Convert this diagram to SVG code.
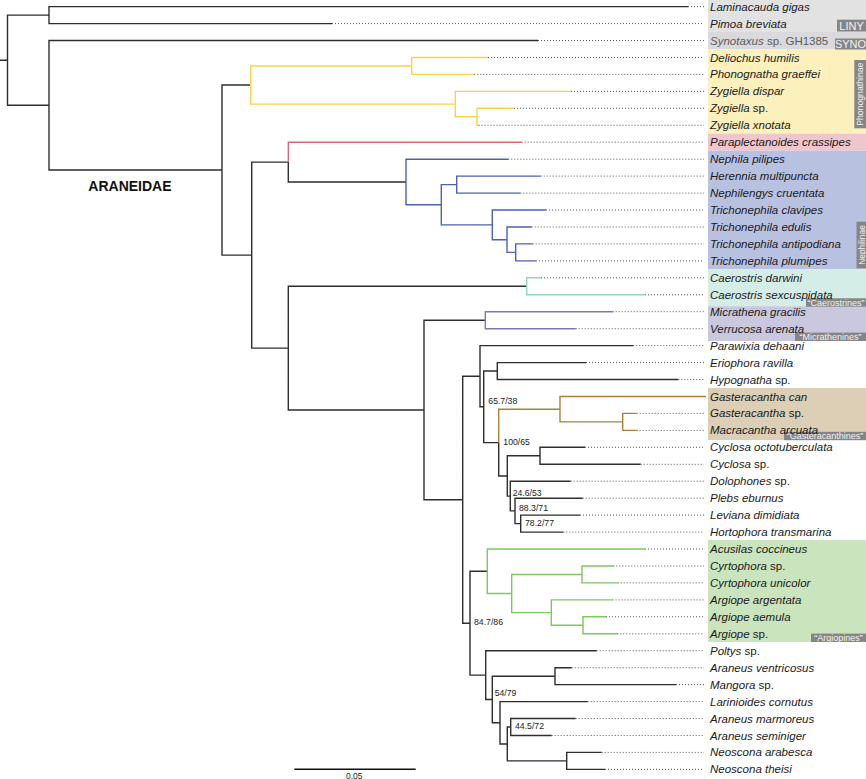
<svg xmlns="http://www.w3.org/2000/svg" width="866" height="779" viewBox="0 0 866 779">
<style>
.br{fill:none;stroke:#2e2e2e;stroke-width:1.4;stroke-linejoin:miter}
.ye{stroke:#f7d448}.rd{stroke:#d66a7a}.bl{stroke:#4c62b0}.tl{stroke:#8fd6c3}.pu{stroke:#7c7aab}.bn{stroke:#a9803a}.gn{stroke:#7dc95a}
.dot{fill:none;stroke:#555;stroke-width:1;stroke-dasharray:1 2}
.tip{font-family:"Liberation Sans",Arial,sans-serif;font-size:11.5px;fill:#1a1a1a}
.i{font-style:italic}
.sup{font-family:"Liberation Sans",Arial,sans-serif;font-size:8.7px;fill:#222}
.lbox{fill:#858585}
.ltx{font-family:"Liberation Sans",Arial,sans-serif;font-size:9px;fill:#f4f4f4}
</style>
<rect width="866" height="779" fill="#fff"/>
<g id="bands">
<rect x="708" y="0" width="158" height="32" fill="#e2e2e3"/>
<rect x="708" y="32" width="158" height="17" fill="#dadadc"/>
<rect x="708" y="49" width="158" height="84.7" fill="#fcf0bd"/>
<rect x="708" y="133.7" width="158" height="17" fill="#efc6cb"/>
<rect x="708" y="150.7" width="158" height="118.6" fill="#b9c1e1"/>
<rect x="708" y="269.3" width="158" height="36.9" fill="#d4ede6"/>
<rect x="708" y="306.2" width="158" height="34.8" fill="#cac8de"/>
<rect x="708" y="388" width="158" height="52" fill="#dccfb5"/>
<rect x="708" y="540" width="158" height="102" fill="#cae4bd"/>
</g>
<g id="clade-labels">
<g id="label-liny"><rect class="lbox" x="837" y="19.7" width="29" height="11.8"/><text class="ltx" x="851.5" y="29.6" text-anchor="middle" style="font-size:11px">LINY</text></g>
<g id="label-syno"><rect class="lbox" x="835" y="38.5" width="31" height="11"/><text class="ltx" x="850.5" y="48" text-anchor="middle" style="font-size:11px">SYNO</text></g>
<g id="label-phonognathinae"><rect class="lbox" x="854.3" y="60" width="11.7" height="68.3"/><text class="ltx" transform="translate(863.3,94.2) rotate(-90)" text-anchor="middle" style="font-size:8.7px">Phonognathinae</text></g>
<g id="label-nephilinae"><rect class="lbox" x="856.5" y="221.7" width="9.5" height="46.6"/><text class="ltx" transform="translate(864.5,245) rotate(-90)" text-anchor="middle" style="font-size:8.4px">Nephilinae</text></g>
<g id="label-caerostrines"><rect class="lbox" x="806" y="298.3" width="60" height="8.4"/><text class="ltx" x="836" y="305.6" text-anchor="middle">“Caerostrines”</text></g>
<g id="label-micrathenines"><rect class="lbox" x="795" y="332.6" width="71" height="8.4"/><text class="ltx" x="830.5" y="339.9" text-anchor="middle">“Micrathenines”</text></g>
<g id="label-gasteracanthines"><rect class="lbox" x="784" y="431.8" width="82" height="8.4"/><text class="ltx" x="825" y="439.1" text-anchor="middle">“Gasteracanthines”</text></g>
<g id="label-argiopines"><rect class="lbox" x="811" y="633.6" width="55" height="8.4"/><text class="ltx" x="838.5" y="640.9" text-anchor="middle">“Argiopines”</text></g>
</g>
<g id="connectors">
<path class="br" d="M0,60.2H7.5 M7.5,60.2V15.1H49 M7.5,60.2V105.3H49
M49,15.1V6.6H688 M49,15.1V23.6H332
M49,105.3V40.5H538 M49,105.3V170H222
M222,170V85H250.7 M222,170V255.1H251.7
M251.7,255.1V162.1H288.3 M251.7,255.1V348.1H288.3
M288.3,162.1V182H406
M288.3,348.1V286.3H526.7 M288.3,348.1V410H424
M424,410V320.2H485.3 M424,410V499.7H462.7
M462.7,499.7V376.2H480 M462.7,499.7V623.2H470
M480,376.2V345.6H633.3 M480,376.2V406.8H483.7
M483.7,406.8V371H497.3 M483.7,406.8V442.6H498.7
M497.3,371V362.6H586 M497.3,371V379.5H678.3
M498.7,442.6V476H507.3
M507.3,476V455.8H540 M507.3,476V496.1H510.3
M540,455.8V447.3H585 M540,455.8V464.3H640.7
M510.3,496.1V481.2H570.7 M510.3,496.1V510.9H515
M515,510.9V498.2H582.7 M515,510.9V523.6H520.7
M520.7,523.6V515.1H580 M520.7,523.6V532.1H563.3
M470,623.2V571.3H487.3 M470,623.2V675.1H485.7
M485.7,675.1V650.7H596.7 M485.7,675.1V699.5H492.3
M492.3,699.5V676.2H555 M492.3,699.5V722.8H500
M555,676.2V667.7H571.7 M555,676.2V684.6H676
M500,722.8V701.6H587.7 M500,722.8V744H507.3
M507.3,744V727H510.7 M507.3,744V760.9H566.7
M510.7,727V718.5H575.7 M510.7,727V735.5H551.7
M566.7,760.9V752.4H601.7 M566.7,760.9V769.4H605"/>
<path class="br ye" d="M250.7,85V66H411.7 M250.7,85V104.1H455.3
M411.7,66V57.5H488 M411.7,66V74.4H474.3
M455.3,104.1V91.4H571 M455.3,104.1V116.8H477
M477,116.8V108.3H514 M477,116.8V125.3H478.5"/>
<path class="br rd" d="M288.3,162.1V142.2H521.7"/>
<path class="br bl" d="M406,182V159.2H508.3 M406,182V204.7H441.3
M441.3,204.7V184.6H456.7 M441.3,204.7V224.9H492.3
M456.7,184.6V176.1H540.7 M456.7,184.6V193.1H520.3
M492.3,224.9V210H546 M492.3,224.9V239.7H507
M507,239.7V227H531.7 M507,239.7V252.4H515.7
M515.7,252.4V243.9H532.7 M515.7,252.4V260.9H536"/>
<path class="br tl" d="M526.7,286.3V277.8H541 M526.7,286.3V294.8H645"/>
<path class="br pu" d="M485.3,320.2V311.7H612.7 M485.3,320.2V328.7H575.7"/>
<path class="br bn" d="M498.7,442.6V409.2H560
M560,409.2V396.5H706 M560,409.2V421.9H622.7
M622.7,421.9V413.4H636.7 M622.7,421.9V430.4H636.7"/>
<path class="br gn" d="M487.3,571.3V549H645 M487.3,571.3V593.5H511.7
M511.7,593.5V574.5H582 M511.7,593.5V612.6H551.3
M582,574.5V566H613.3 M582,574.5V582.9H617.7
M551.3,612.6V599.9H612.5 M551.3,612.6V625.3H583
M583,625.3V616.8H606 M583,625.3V633.8H617.3"/>
<path class="dot" d="M688,6.6H704 M332,23.6H704 M538,40.5H704 M488,57.5H704 M474.3,74.4H704 M571,91.4H704 M514,108.3H704 M478.5,125.3H704 M521.7,142.2H704 M508.3,159.2H704 M540.7,176.1H704 M520.3,193.1H704 M546,210H704 M531.7,227H704 M532.7,243.9H704 M536,260.9H704 M541,277.8H704 M645,294.8H704 M612.7,311.7H704 M575.7,328.7H704 M633.3,345.6H704 M586,362.6H704 M678.3,379.5H704 M636.7,413.4H704 M636.7,430.4H704 M585,447.3H704 M640.7,464.3H704 M570.7,481.2H704 M582.7,498.2H704 M580,515.1H704 M563.3,532.1H704 M645,549H704 M613.3,566H704 M617.7,582.9H704 M612.5,599.9H704 M606,616.8H704 M617.3,633.8H704 M596.7,650.7H704 M571.7,667.7H704 M676,684.6H704 M587.7,701.6H704 M575.7,718.5H704 M551.7,735.5H704 M601.7,752.4H704 M605,769.4H704"/>
</g>
<g id="support-values">
<text class="sup" x="488.3" y="404">65.7/38</text>
<text class="sup" x="503.3" y="444.7">100/65</text>
<text class="sup" x="512.7" y="495.7">24.6/53</text>
<text class="sup" x="519" y="510.7">88.3/71</text>
<text class="sup" x="525" y="525.7">78.2/77</text>
<text class="sup" x="474" y="625">84.7/86</text>
<text class="sup" x="494.7" y="695.7">54/79</text>
<text class="sup" x="515" y="729">44.5/72</text>
</g>
<g id="araneidae-label"><text x="88.3" y="190.7" style="font-family:'Liberation Sans',Arial,sans-serif;font-size:14px;font-weight:bold;fill:#111">ARANEIDAE</text></g>
<g id="tips" class="tip">
<g id="tip-00"><text x="710" y="10.6" class="i">Laminacauda gigas</text></g>
<g id="tip-01"><text x="710" y="27.6" class="i">Pimoa breviata</text></g>
<g id="tip-02"><text x="710" y="44.5" style="fill:#5a5a5a"><tspan class="i">Synotaxus</tspan> sp. GH1385</text></g>
<g id="tip-03"><text x="710" y="61.5" class="i">Deliochus humilis</text></g>
<g id="tip-04"><text x="710" y="78.4" class="i">Phonognatha graeffei</text></g>
<g id="tip-05"><text x="710" y="95.4" class="i">Zygiella dispar</text></g>
<g id="tip-06"><text x="710" y="112.3"><tspan class="i">Zygiella</tspan> sp.</text></g>
<g id="tip-07"><text x="710" y="129.3" class="i">Zygiella xnotata</text></g>
<g id="tip-08"><text x="710" y="146.2" class="i">Paraplectanoides crassipes</text></g>
<g id="tip-09"><text x="710" y="163.2" class="i">Nephila pilipes</text></g>
<g id="tip-10"><text x="710" y="180.1" class="i">Herennia multipuncta</text></g>
<g id="tip-11"><text x="710" y="197.1" class="i">Nephilengys cruentata</text></g>
<g id="tip-12"><text x="710" y="214" class="i">Trichonephila clavipes</text></g>
<g id="tip-13"><text x="710" y="231" class="i">Trichonephila edulis</text></g>
<g id="tip-14"><text x="710" y="247.9" class="i">Trichonephila antipodiana</text></g>
<g id="tip-15"><text x="710" y="264.9" class="i">Trichonephila plumipes</text></g>
<g id="tip-16"><text x="710" y="281.8" class="i">Caerostris darwini</text></g>
<g id="tip-17"><text x="710" y="298.8" class="i">Caerostris sexcuspidata</text></g>
<g id="tip-18"><text x="710" y="315.7" class="i">Micrathena gracilis</text></g>
<g id="tip-19"><text x="710" y="332.7" class="i">Verrucosa arenata</text></g>
<g id="tip-20"><text x="710" y="349.6" class="i">Parawixia dehaani</text></g>
<g id="tip-21"><text x="710" y="366.6" class="i">Eriophora ravilla</text></g>
<g id="tip-22"><text x="710" y="383.5"><tspan class="i">Hypognatha</tspan> sp.</text></g>
<g id="tip-23"><text x="710" y="400.5" class="i">Gasteracantha can</text></g>
<g id="tip-24"><text x="710" y="417.4"><tspan class="i">Gasteracantha</tspan> sp.</text></g>
<g id="tip-25"><text x="710" y="434.4" class="i">Macracantha arcuata</text></g>
<g id="tip-26"><text x="710" y="451.3" class="i">Cyclosa octotuberculata</text></g>
<g id="tip-27"><text x="710" y="468.3"><tspan class="i">Cyclosa</tspan> sp.</text></g>
<g id="tip-28"><text x="710" y="485.2"><tspan class="i">Dolophones</tspan> sp.</text></g>
<g id="tip-29"><text x="710" y="502.2" class="i">Plebs eburnus</text></g>
<g id="tip-30"><text x="710" y="519.1" class="i">Leviana dimidiata</text></g>
<g id="tip-31"><text x="710" y="536.1" class="i">Hortophora transmarina</text></g>
<g id="tip-32"><text x="710" y="553" class="i">Acusilas coccineus</text></g>
<g id="tip-33"><text x="710" y="570"><tspan class="i">Cyrtophora</tspan> sp.</text></g>
<g id="tip-34"><text x="710" y="586.9" class="i">Cyrtophora unicolor</text></g>
<g id="tip-35"><text x="710" y="603.9" class="i">Argiope argentata</text></g>
<g id="tip-36"><text x="710" y="620.8" class="i">Argiope aemula</text></g>
<g id="tip-37"><text x="710" y="637.8"><tspan class="i">Argiope</tspan> sp.</text></g>
<g id="tip-38"><text x="710" y="654.7"><tspan class="i">Poltys</tspan> sp.</text></g>
<g id="tip-39"><text x="710" y="671.7" class="i">Araneus ventricosus</text></g>
<g id="tip-40"><text x="710" y="688.6"><tspan class="i">Mangora</tspan> sp.</text></g>
<g id="tip-41"><text x="710" y="705.6" class="i">Larinioides cornutus</text></g>
<g id="tip-42"><text x="710" y="722.5" class="i">Araneus marmoreus</text></g>
<g id="tip-43"><text x="710" y="739.5" class="i">Araneus seminiger</text></g>
<g id="tip-44"><text x="710" y="756.4" class="i">Neoscona arabesca</text></g>
<g id="tip-45"><text x="710" y="773.4" class="i">Neoscona theisi</text></g>
</g>
<g id="scale-bar">
<path d="M294.3,769.3H415.7" stroke="#111" stroke-width="1.5" fill="none"/>
<text x="354.3" y="778.5" text-anchor="middle" style="font-family:'Liberation Sans',Arial,sans-serif;font-size:8.5px;fill:#222">0.05</text>
</g>
</svg>
